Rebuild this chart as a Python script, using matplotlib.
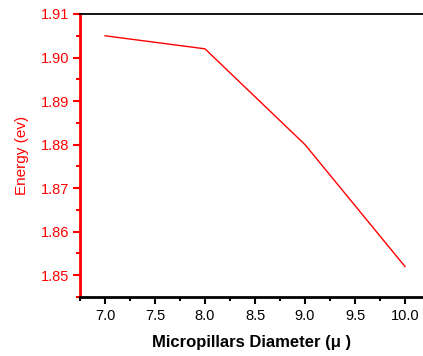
import matplotlib
matplotlib.use('Agg')
import matplotlib.pyplot as plt
from matplotlib.ticker import MultipleLocator

plt.rcParams['font.family'] = ['Liberation Sans', 'DejaVu Sans']

diameter = [7.0, 8.0, 9.0, 10.0]
energy = [1.905, 1.902, 1.880, 1.852]

fig = plt.figure(figsize=(4.23, 3.56), dpi=100)
ax = fig.add_axes([80 / 423, 1 - 297 / 356, 1 - 80 / 423, (297 - 14) / 356])

ax.plot(diameter, energy, color='red', lw=1.0)

ax.set_xlim(6.75, 10.18)
ax.set_ylim(1.845, 1.91)

ax.xaxis.set_major_locator(MultipleLocator(0.5))
ax.xaxis.set_minor_locator(MultipleLocator(0.25))
ax.yaxis.set_major_locator(MultipleLocator(0.01))
ax.yaxis.set_minor_locator(MultipleLocator(0.005))
ax.xaxis.set_major_formatter(matplotlib.ticker.FormatStrFormatter('%.1f'))
ax.yaxis.set_major_formatter(matplotlib.ticker.FormatStrFormatter('%.2f'))

ax.spines['right'].set_visible(False)
ax.spines['left'].set_color('red')
ax.spines['left'].set_linewidth(2.0)
ax.spines['bottom'].set_linewidth(2.0)
ax.spines['top'].set_linewidth(1.3)

ax.tick_params(axis='x', which='major', direction='out', length=5, width=1.5, labelsize=10.5, pad=4)
ax.tick_params(axis='x', which='minor', direction='out', length=3, width=1.5)
ax.tick_params(axis='y', which='major', direction='out', length=5, width=1.5, colors='red', labelsize=10.5, pad=3)
ax.tick_params(axis='y', which='minor', direction='out', length=3, width=1.5, colors='red')

ax.set_xlabel('Micropillars Diameter (\u03bc )', fontsize=12, fontweight='bold', labelpad=8)
ax.set_ylabel('Energy (ev)', fontsize=11, color='red', labelpad=8)

fig.savefig('out.png', dpi=100)
